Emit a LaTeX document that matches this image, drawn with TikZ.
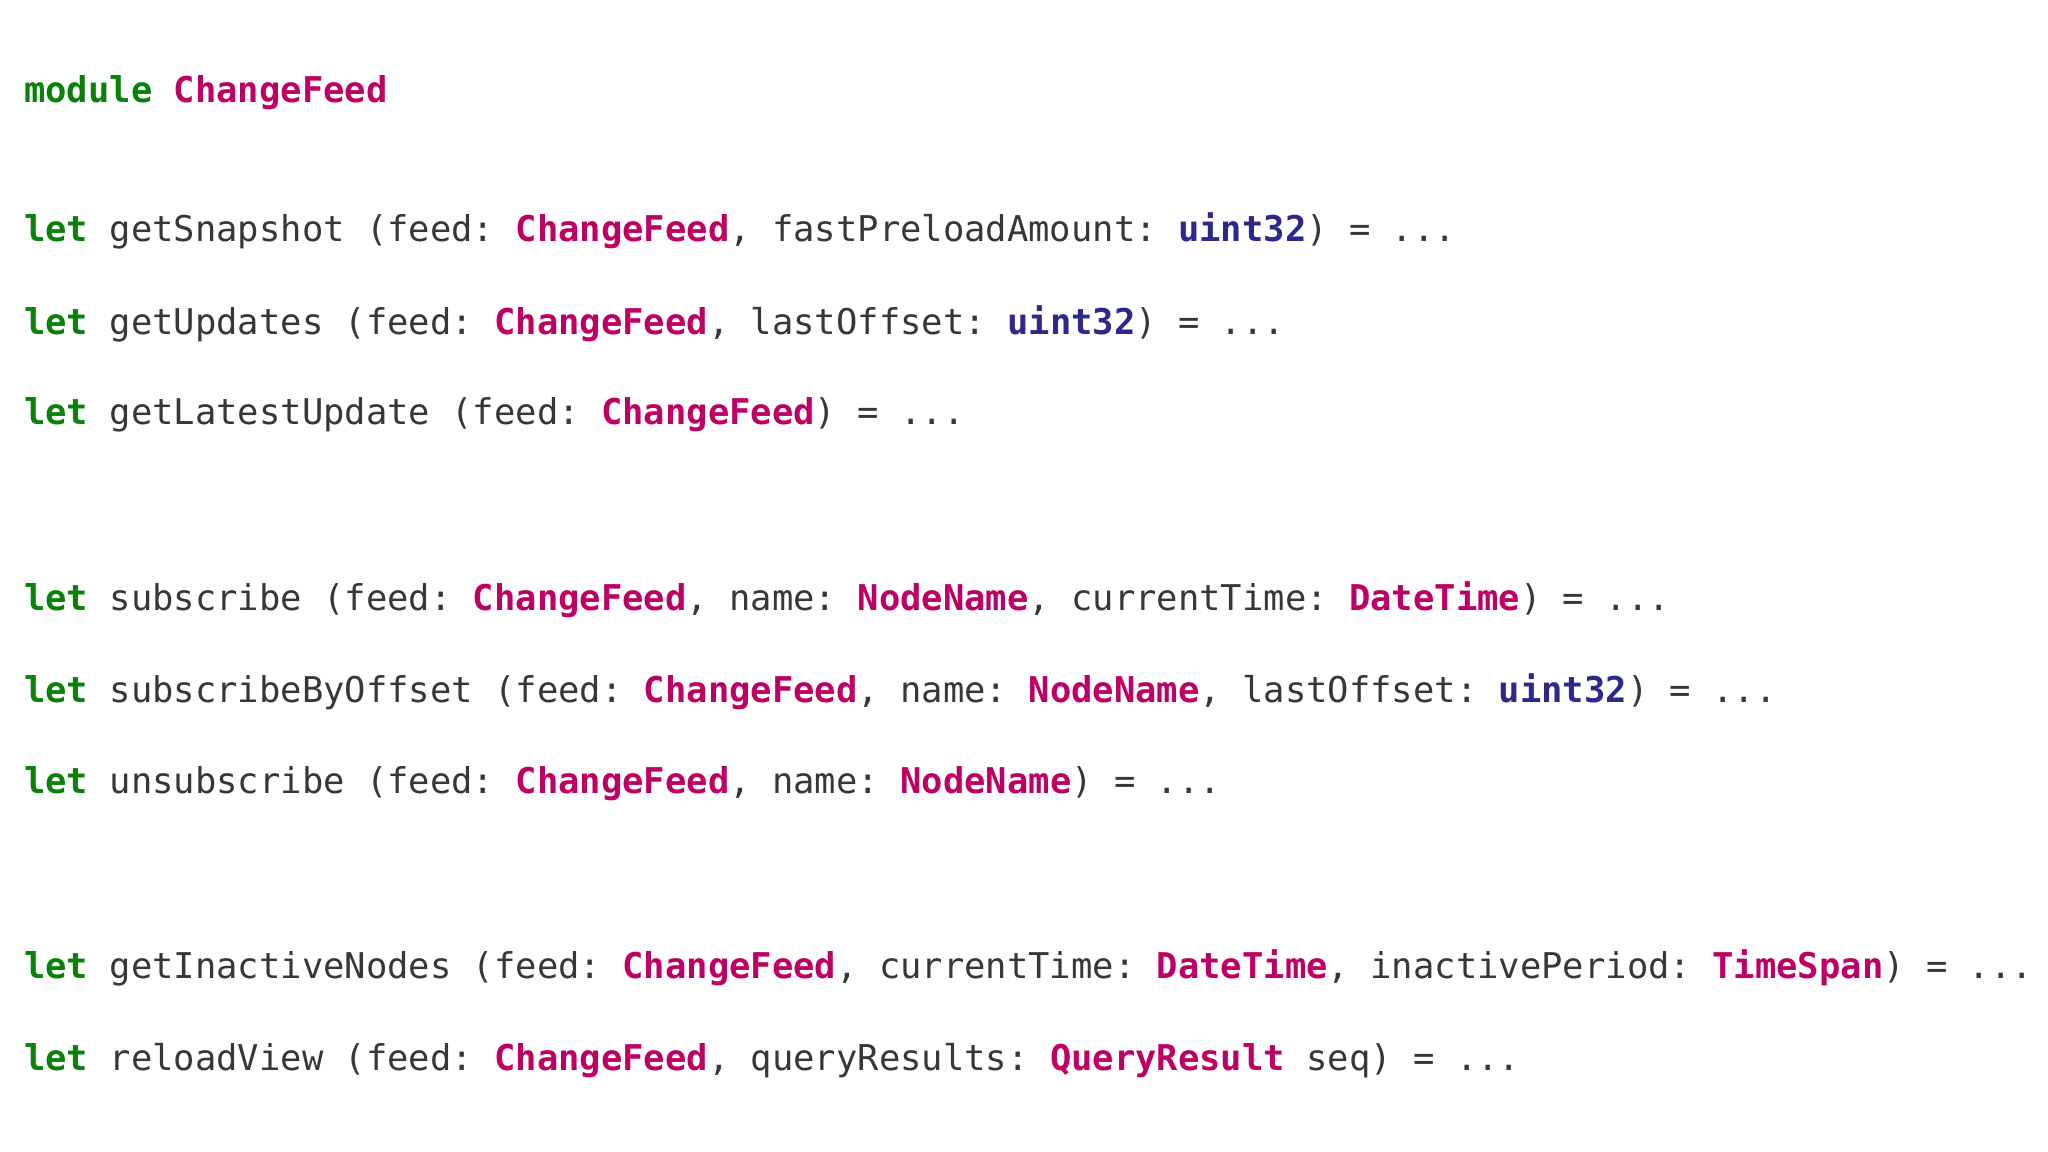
\documentclass[tikz,border=0pt]{standalone}
\usepackage{fontspec}
\setmonofont{DejaVu Sans Mono}
\definecolor{kw}{RGB}{10,130,10}
\definecolor{ty}{RGB}{190,0,100}
\definecolor{nt}{RGB}{45,40,140}
\definecolor{tx}{RGB}{55,55,55}
\newcommand{\K}[1]{\textcolor{kw}{\textbf{#1}}}
\newcommand{\T}[1]{\textcolor{ty}{\textbf{#1}}}
\newcommand{\N}[1]{\textcolor{nt}{\textbf{#1}}}
\tikzset{code/.style={anchor=west,inner sep=0pt,font=\ttfamily\fontsize{10.1}{12}\selectfont,text=tx}}
\begin{document}
\begin{tikzpicture}
\useasboundingbox[fill=white] (0,0) rectangle (20.48,-11.52);
\node[code] (l0) at (0.235,-0.927) {\K{module} \T{ChangeFeed}};
\node[code] (l1) at (0.235,-2.312) {\K{let} getSnapshot (feed: \T{ChangeFeed}, fastPreloadAmount: \N{uint32}) = ...};
\node[code] (l2) at (0.235,-3.239) {\K{let} getUpdates (feed: \T{ChangeFeed}, lastOffset: \N{uint32}) = ...};
\node[code] (l3) at (0.235,-4.153) {\K{let} getLatestUpdate (feed: \T{ChangeFeed}) = ...};
\node[code] (l4) at (0.235,-5.995) {\K{let} subscribe (feed: \T{ChangeFeed}, name: \T{NodeName}, currentTime: \T{DateTime}) = ...};
\node[code] (l5) at (0.235,-6.922) {\K{let} subscribeByOffset (feed: \T{ChangeFeed}, name: \T{NodeName}, lastOffset: \N{uint32}) = ...};
\node[code] (l6) at (0.235,-7.836) {\K{let} unsubscribe (feed: \T{ChangeFeed}, name: \T{NodeName}) = ...};
\node[code] (l7) at (0.235,-9.677) {\K{let} getInactiveNodes (feed: \T{ChangeFeed}, currentTime: \T{DateTime}, inactivePeriod: \T{TimeSpan}) = ...};
\node[code] (l8) at (0.235,-10.605) {\K{let} reloadView (feed: \T{ChangeFeed}, queryResults: \T{QueryResult} seq) = ...};
\end{tikzpicture}
\end{document}
